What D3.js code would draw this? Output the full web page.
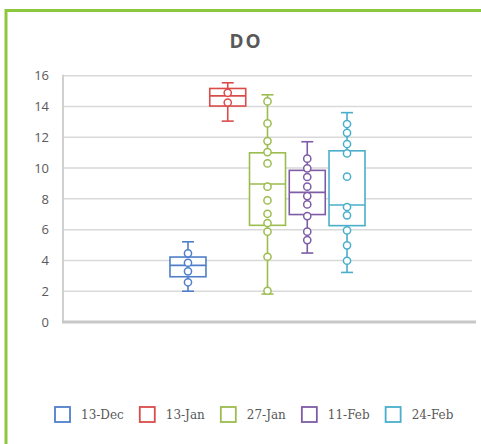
<!DOCTYPE html>
<html>
<head>
<meta charset="utf-8">
<script src="https://cdn.jsdelivr.net/npm/d3@7"></script>
<style>
  html, body { margin: 0; padding: 0; background: #fff; }
  svg { display: block; }
</style>
</head>
<body>
<svg id="chart" width="481" height="444"></svg>
<script>
// ---- data ----
const seriesNames = ["13-Dec", "13-Jan", "27-Jan", "11-Feb", "24-Feb"];
const seriesColors = ["#4f7fc9", "#d94c4a", "#9bbd4f", "#7e5ca6", "#4aaecb"];
const whiskerMin = [2.0, 13.05, 1.82, 4.48, 3.22];
const q1Values   = [2.94, 14.03, 6.28, 6.98, 6.26];
const medians    = [3.68, 14.69, 8.96, 8.42, 7.6];
const q3Values   = [4.22, 15.17, 10.99, 9.85, 11.12];
const whiskerMax = [5.21, 15.54, 14.76, 11.71, 13.6];
const pointsDec13 = [4.46, 3.85, 3.29, 2.58];
const pointsJan13 = [14.89, 14.26];
const pointsJan27 = [14.33, 12.9, 11.75, 11.04, 10.3, 8.79, 7.9, 7.03, 6.43, 5.87, 4.24, 2.03];
const pointsFeb11 = [10.61, 9.98, 9.42, 8.79, 8.18, 7.64, 6.88, 5.87, 5.32];
const pointsFeb24 = [12.86, 12.29, 11.56, 10.95, 9.44, 7.47, 6.93, 5.95, 4.98, 3.98];
const seriesPoints = [pointsDec13, pointsJan13, pointsJan27, pointsFeb11, pointsFeb24];
const yTicks = [0, 2, 4, 6, 8, 10, 12, 14, 16];
const chartTitle = "DO";

// ---- layout ----
const svg = d3.select("#chart");
const plot = { left: 63, right: 472, top: 75.7, bottom: 322 };

// outer green frame
svg.append("path")
  .attr("d", "M6,444 V10.5 H481")
  .attr("fill", "none")
  .attr("stroke", "#8dc63f")
  .attr("stroke-width", 3);

// title
svg.append("text")
  .attr("x", 246)
  .attr("y", 48)
  .attr("text-anchor", "middle")
  .attr("font-family", "Open Sans, sans-serif")
  .attr("font-weight", "bold")
  .attr("font-size", 19)
  .attr("letter-spacing", 2)
  .attr("fill", "#595959")
  .text(chartTitle);

const y = d3.scaleLinear().domain([0, 16]).range([plot.bottom, plot.top]);
const xCat = d3.scaleBand().domain(["all"]).range([plot.left, plot.right]).paddingInner(0).paddingOuter(0.5276);
const xSub = d3.scaleBand().domain(seriesNames).range([0, xCat.bandwidth()]).paddingInner(0.095).paddingOuter(0.05);

// gridlines
svg.append("g").selectAll("line").data(yTicks.filter(d => d > 0)).join("line")
  .attr("x1", plot.left).attr("x2", plot.right)
  .attr("y1", d => y(d)).attr("y2", d => y(d))
  .attr("stroke", "#d9d9d9").attr("stroke-width", 1.5);

// y axis labels
const yAxis = d3.axisLeft(y).tickValues(yTicks).tickSize(0).tickPadding(14);
const yg = svg.append("g").attr("transform", `translate(${plot.left},0)`).call(yAxis);
yg.select(".domain").remove();
yg.selectAll("text")
  .attr("font-family", "Open Sans, sans-serif")
  .attr("font-size", 13)
  .attr("fill", "#595959");

// axis frame lines
svg.append("line")
  .attr("x1", plot.left).attr("x2", plot.left)
  .attr("y1", plot.top - 1).attr("y2", plot.bottom)
  .attr("stroke", "#d0d0d0").attr("stroke-width", 2);
svg.append("line")
  .attr("x1", plot.left - 1).attr("x2", 476)
  .attr("y1", plot.bottom).attr("y2", plot.bottom)
  .attr("stroke", "#c8c8c8").attr("stroke-width", 3);

// boxes
const boxes = seriesNames.map((name, i) => ({
  name, color: seriesColors[i], lo: whiskerMin[i], q1: q1Values[i], med: medians[i],
  q3: q3Values[i], hi: whiskerMax[i], pts: seriesPoints[i]
}));

const g = svg.append("g").attr("transform", `translate(${xCat("all")},0)`);
const bw = xSub.bandwidth();
const capW = 12;
const groups = g.selectAll("g.box").data(boxes).join("g")
  .attr("class", "box")
  .attr("transform", d => `translate(${xSub(d.name)},0)`);

groups.each(function(d) {
  const s = d3.select(this);
  const cx = bw / 2;
  const line = (x1, y1, x2, y2) => s.append("line")
    .attr("x1", x1).attr("y1", y1).attr("x2", x2).attr("y2", y2)
    .attr("stroke", d.color).attr("stroke-width", 1.6);
  // whiskers
  line(cx, y(d.hi), cx, y(d.q3));
  line(cx, y(d.q1), cx, y(d.lo));
  line(cx - capW / 2, y(d.hi), cx + capW / 2, y(d.hi));
  line(cx - capW / 2, y(d.lo), cx + capW / 2, y(d.lo));
  // box
  s.append("rect")
    .attr("x", 0).attr("width", bw)
    .attr("y", y(d.q3)).attr("height", y(d.q1) - y(d.q3))
    .attr("fill", "#fff").attr("stroke", d.color).attr("stroke-width", 1.6);
  // median
  line(0, y(d.med), bw, y(d.med));
  // points
  s.selectAll("circle").data(d.pts).join("circle")
    .attr("cx", cx).attr("cy", v => y(v)).attr("r", 3.6)
    .attr("fill", "#fff").attr("stroke", d.color).attr("stroke-width", 1.5);
});

// legend
const legend = svg.append("g").attr("transform", "translate(54,406)");
let lx = 0;
seriesNames.forEach((name, i) => {
  const item = legend.append("g").attr("transform", `translate(${lx},0)`);
  item.append("rect")
    .attr("x", 1).attr("y", 1).attr("width", 15).attr("height", 15)
    .attr("fill", "#fff").attr("stroke", seriesColors[i]).attr("stroke-width", 1.8);
  const t = item.append("text")
    .attr("x", 27).attr("y", 12.5)
    .attr("font-family", "DejaVu Serif, serif")
    .attr("font-size", 12)
    .attr("fill", "#595959")
    .text(name);
  lx += 27 + t.node().getComputedTextLength() + 15;
});
</script>
</body>
</html>
